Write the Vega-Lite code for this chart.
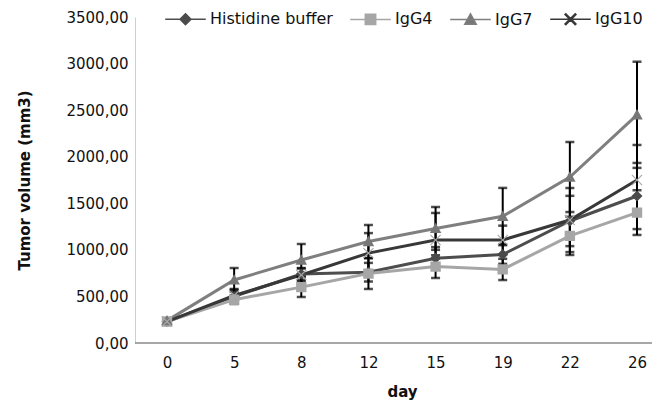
{
  "$schema": "https://vega.github.io/schema/vega-lite/v6.json",
  "width": 517,
  "height": 326,
  "autosize": {"type": "none"},
  "padding": {"left": 135, "top": 17, "right": 6, "bottom": 59},
  "background": "white",
  "config": {
    "view": {"stroke": null},
    "font": "DejaVu Sans",
    "axis": {"labelFont": "DejaVu Sans", "titleFont": "DejaVu Sans", "labelColor": "#111", "titleColor": "#111"},
    "legend": {"labelFont": "DejaVu Sans"}
  },
  "data": {
    "values": [
      {"day": 0, "series": "Histidine buffer", "v": 230, "lo": 215, "hi": 245},
      {"day": 5, "series": "Histidine buffer", "v": 500, "lo": 420, "hi": 580},
      {"day": 8, "series": "Histidine buffer", "v": 740, "lo": 675, "hi": 805},
      {"day": 12, "series": "Histidine buffer", "v": 760, "lo": 660, "hi": 860},
      {"day": 15, "series": "Histidine buffer", "v": 910, "lo": 790, "hi": 1030},
      {"day": 19, "series": "Histidine buffer", "v": 950, "lo": 850, "hi": 1050},
      {"day": 22, "series": "Histidine buffer", "v": 1310, "lo": 1040, "hi": 1580},
      {"day": 26, "series": "Histidine buffer", "v": 1578, "lo": 1223, "hi": 1933},
      {"day": 0, "series": "IgG4", "v": 230, "lo": 210, "hi": 250},
      {"day": 5, "series": "IgG4", "v": 465, "lo": 420, "hi": 510},
      {"day": 8, "series": "IgG4", "v": 600, "lo": 494, "hi": 706},
      {"day": 12, "series": "IgG4", "v": 745, "lo": 580, "hi": 910},
      {"day": 15, "series": "IgG4", "v": 820, "lo": 698, "hi": 942},
      {"day": 19, "series": "IgG4", "v": 790, "lo": 676, "hi": 904},
      {"day": 22, "series": "IgG4", "v": 1150, "lo": 945, "hi": 1355},
      {"day": 26, "series": "IgG4", "v": 1400, "lo": 1160, "hi": 1640},
      {"day": 0, "series": "IgG7", "v": 240, "lo": 220, "hi": 260},
      {"day": 5, "series": "IgG7", "v": 677, "lo": 549, "hi": 805},
      {"day": 8, "series": "IgG7", "v": 891, "lo": 719, "hi": 1063},
      {"day": 12, "series": "IgG7", "v": 1090, "lo": 913, "hi": 1267},
      {"day": 15, "series": "IgG7", "v": 1230, "lo": 1000, "hi": 1460},
      {"day": 19, "series": "IgG7", "v": 1360, "lo": 1060, "hi": 1665},
      {"day": 22, "series": "IgG7", "v": 1782, "lo": 1406, "hi": 2158},
      {"day": 26, "series": "IgG7", "v": 2450, "lo": 1880, "hi": 3020},
      {"day": 0, "series": "IgG10", "v": 230, "lo": 210, "hi": 250},
      {"day": 5, "series": "IgG10", "v": 510, "lo": 450, "hi": 570},
      {"day": 8, "series": "IgG10", "v": 730, "lo": 660, "hi": 800},
      {"day": 12, "series": "IgG10", "v": 965, "lo": 750, "hi": 1180},
      {"day": 15, "series": "IgG10", "v": 1106, "lo": 816, "hi": 1396},
      {"day": 19, "series": "IgG10", "v": 1106, "lo": 950, "hi": 1260},
      {"day": 22, "series": "IgG10", "v": 1320, "lo": 976, "hi": 1664},
      {"day": 26, "series": "IgG10", "v": 1750, "lo": 1374, "hi": 2126}
    ]
  },
  "encoding": {
    "x": {
      "field": "day", "type": "ordinal", "sort": "ascending",
      "scale": {"type": "point", "range": [32, 502], "padding": 0},
      "axis": {"title": "day", "titleFontWeight": "bold", "titleFontSize": 15, "labelFontSize": 15, "labelAngle": 0, "ticks": false, "domain": false, "labelPadding": 12, "titlePadding": 14}
    }
  },
  "layer": [
    {
      "transform": [{"filter": "datum.day < 0"}],
      "mark": {"type": "point", "filled": true, "opacity": 1, "size": 120, "strokeWidth": 2.5},
      "encoding": {
        "y": {"field": "v", "type": "quantitative"},
        "fill": {
          "field": "series", "type": "nominal",
          "legend": {"orient": "none", "legendX": 28, "legendY": -6, "direction": "horizontal", "title": null, "symbolSize": 120, "symbolOffset": 14.5, "labelOffset": 16.5, "columnPadding": 14, "labelFontSize": 16, "labelColor": "#111", "padding": 0}
        },
        "stroke": {
          "field": "series", "type": "nominal",
          "legend": {"orient": "none", "legendX": 28, "legendY": -6, "direction": "horizontal", "title": null, "symbolSize": 120, "symbolOffset": 14.5, "labelOffset": 16.5, "columnPadding": 14, "labelFontSize": 16, "labelColor": "#111", "padding": 0}
        },
        "shape": {
          "field": "series", "type": "nominal",
          "legend": {"orient": "none", "legendX": 28, "legendY": -6, "direction": "horizontal", "title": null, "symbolSize": 120, "symbolOffset": 14.5, "labelOffset": 16.5, "columnPadding": 14, "labelFontSize": 16, "labelColor": "#111", "padding": 0}
        }
      }
    },
    {
      "data": {"values": [{"base": 0}]},
      "mark": {"type": "rule", "color": "#8a8a8a", "strokeWidth": 1.5},
      "encoding": {"x": null, "y": {"field": "base", "type": "quantitative"}}
    },
    {
      "mark": {"type": "line", "strokeWidth": 3},
      "encoding": {
        "y": {
          "field": "v", "type": "quantitative",
          "scale": {"domain": [0, 3500], "nice": false},
          "axis": {"title": "Tumor volume (mm3)", "titleFontWeight": "bold", "titleFontSize": 15, "labelFontSize": 15, "values": [0, 500, 1000, 1500, 2000, 2500, 3000, 3500], "labelExpr": "replace(format(datum.value, '.2f'), '.', ',')", "ticks": false, "grid": false, "domainColor": "#cfcfcf", "labelPadding": 7, "titlePadding": 33}
        },
        "stroke": {
          "field": "series", "type": "nominal",
          "scale": {"domain": ["Histidine buffer", "IgG4", "IgG7", "IgG10"], "range": ["#4d4d4d", "#a6a6a6", "#7f7f7f", "#383838"]},
          "legend": null
        }
      }
    },
    {
      "mark": {"type": "rule", "color": "#000", "strokeWidth": 2},
      "encoding": {"y": {"field": "lo", "type": "quantitative"}, "y2": {"field": "hi"}}
    },
    {
      "mark": {"type": "tick", "color": "#000", "size": 9, "thickness": 2.5, "orient": "horizontal"},
      "encoding": {"y": {"field": "lo", "type": "quantitative"}}
    },
    {
      "mark": {"type": "tick", "color": "#000", "size": 9, "thickness": 2.5, "orient": "horizontal"},
      "encoding": {"y": {"field": "hi", "type": "quantitative"}}
    },
    {
      "mark": {"type": "point", "filled": true, "opacity": 1, "size": 120, "strokeWidth": 0},
      "encoding": {
        "y": {"field": "v", "type": "quantitative"},
        "fill": {
          "field": "series", "type": "nominal",
          "scale": {"domain": ["Histidine buffer", "IgG4", "IgG7", "IgG10"], "range": ["#4a4a4a", "#a6a6a6", "#777777", "#a9a9a9"]},
          "legend": null
        },
        "shape": {
          "field": "series", "type": "nominal",
          "scale": {"domain": ["Histidine buffer", "IgG4", "IgG7", "IgG10"], "range": [
            "M-3.7,0H3.7M0,-1L1,0L0,1L-1,0Z",
            "M-3.7,0H3.7M-0.95,-0.95H0.95V0.95H-0.95Z",
            "M-3.7,0H3.7M0,-1.05L1.05,0.85H-1.05Z",
            "M-3.7,0H3.7M-1,-0.85L-0.85,-1L0,-0.15L0.85,-1L1,-0.85L0.15,0L1,0.85L0.85,1L0,0.15L-0.85,1L-1,0.85L-0.15,0Z"
          ]},
          "legend": null
        }
      }
    }
  ]
}
